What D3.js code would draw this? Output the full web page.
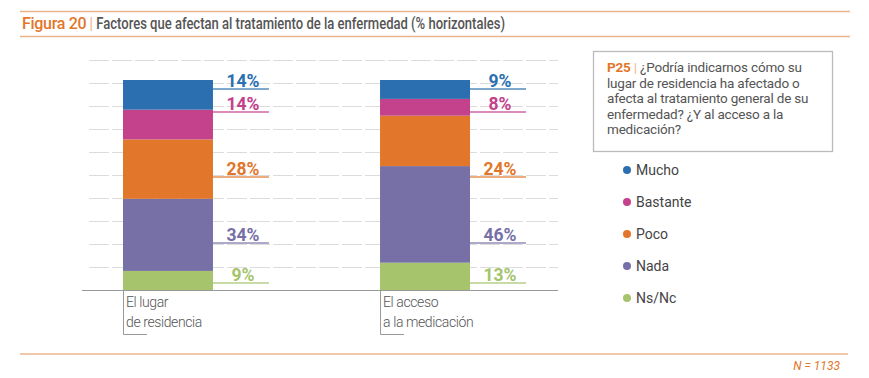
<!DOCTYPE html>
<html>
<head>
<meta charset="utf-8">
<script src="https://cdn.jsdelivr.net/npm/d3@7"></script>
<style>
  body { margin: 0; background: #fff; }
  svg { display: block; font-family: Roboto, "Open Sans", sans-serif; }
</style>
</head>
<body>
<script>
// datos
const categorias = [["El lugar", "de residencia"], ["El acceso", "a la medicación"]];
const series = ["Mucho", "Bastante", "Poco", "Nada", "Ns/Nc"];
const mucho = [14, 9];
const bastante = [14, 8];
const poco = [28, 24];
const nada = [34, 46];
const nsnc = [9, 13];
const gridTicks = [10, 20, 30, 40, 50, 60, 70, 80, 90, 100];

const colores = ["#2b6fb0", "#c4418c", "#e2762a", "#7670a6", "#a5c46c"];
const naranja = "#e2762a";

const W = 869, H = 378;
const svg = d3.select("body").append("svg").attr("width", W).attr("height", H);

// cabecera
svg.append("line").attr("x1", 20).attr("x2", 850).attr("y1", 11.5).attr("y2", 11.5)
  .attr("stroke", "#ebb58b").attr("stroke-width", 1.5);
svg.append("line").attr("x1", 20).attr("x2", 850).attr("y1", 36.5).attr("y2", 36.5)
  .attr("stroke", "#ebb58b").attr("stroke-width", 1.5);
const t1 = svg.append("text").attr("x", 22).attr("y", 29).attr("font-size", 16)
  .attr("font-weight", 500).attr("fill", naranja).attr("letter-spacing", -0.3).text("Figura 20");
let tx = 22 + t1.node().getComputedTextLength() + 3;
svg.append("text").attr("x", tx).attr("y", 29).attr("font-size", 16)
  .attr("fill", "#f0b890").text("|");
tx += 7;
svg.append("text").attr("x", tx).attr("y", 29).attr("font-size", 16).attr("font-weight", 500)
  .attr("fill", "#555").attr("textLength", 505 - tx).attr("lengthAdjust", "spacingAndGlyphs")
  .text("Factores que afectan al tratamiento de la enfermedad (% horizontales)");

// pie
svg.append("line").attr("x1", 20).attr("x2", 848).attr("y1", 354).attr("y2", 354)
  .attr("stroke", "#ebb58b").attr("stroke-width", 1.5);
svg.append("text").attr("x", 840).attr("y", 370).attr("text-anchor", "end")
  .attr("font-size", 12).attr("font-style", "italic").attr("fill", naranja).text("N = 1133");

// escalas
const base = 290;
const x = d3.scaleBand().domain(d3.range(categorias.length)).range([123, 470]).paddingInner(0.65).paddingOuter(0);
const yGrid = d3.scaleLinear().domain([0, 100]).range([base, 60]);
const yBar = d3.scaleLinear().domain([0, 1]).range([base, 80]);

// rejilla
svg.append("g").selectAll("line").data(gridTicks).join("line")
  .attr("x1", 89).attr("x2", 558)
  .attr("y1", d => yGrid(d) + 0.5).attr("y2", d => yGrid(d) + 0.5)
  .attr("stroke", "#dcdcdc").attr("stroke-width", 1).attr("stroke-dasharray", "20,3");

// apilado
const filas = categorias.map((c, i) => ({
  Mucho: mucho[i], Bastante: bastante[i], Poco: poco[i], Nada: nada[i], "Ns/Nc": nsnc[i]
}));
const stack = d3.stack().keys(series.slice().reverse()).offset(d3.stackOffsetExpand);
const capas = stack(filas);

capas.forEach(capa => {
  const ci = series.indexOf(capa.key);
  svg.append("g").selectAll("rect").data(capa).join("rect")
    .attr("x", (d, i) => x(i))
    .attr("width", x.bandwidth())
    .attr("y", d => yBar(d[1]))
    .attr("height", d => yBar(d[0]) - yBar(d[1]))
    .attr("fill", colores[ci]);
});

// eje base
svg.append("line").attr("x1", 82).attr("x2", 558).attr("y1", base + 0.5).attr("y2", base + 0.5)
  .attr("stroke", "#999").attr("stroke-width", 1.2);

// etiquetas de categoria
categorias.forEach((c, i) => {
  const x0 = x(i);
  svg.append("path").attr("d", `M${x0 + 0.5},${base} V334.5 H${x0 + 24}`)
    .attr("fill", "none").attr("stroke", "#999").attr("stroke-width", 1);
  c.forEach((t, j) => {
    svg.append("text").attr("x", x0 + 3).attr("y", 307 + j * 20)
      .attr("font-size", 14).attr("font-weight", 300).attr("fill", "#555").attr("letter-spacing", -0.4).text(t);
  });
});

// etiquetas de valor (filas fijas, como en el original)
const filaEtiqueta = [89, 112, 177, 243, 283];
const valores = [mucho, bastante, poco, nada, nsnc];
categorias.forEach((c, i) => {
  const x1 = x(i) + x.bandwidth();
  valores.forEach((v, k) => {
    const yy = filaEtiqueta[k];
    svg.append("line").attr("x1", x1).attr("x2", x1 + 56).attr("y1", yy).attr("y2", yy)
      .attr("stroke", colores[k]).attr("stroke-width", 1.5).attr("opacity", 0.8);
    svg.append("text").attr("x", x1 + 30).attr("y", yy - 2.5).attr("text-anchor", "middle")
      .attr("font-size", 17.5).attr("font-weight", "bold").attr("fill", colores[k])
      .text(v[i] + "%");
  });
});

// recuadro pregunta
svg.append("rect").attr("x", 593.5).attr("y", 51.5).attr("width", 239).attr("height", 100)
  .attr("fill", "#fff").attr("stroke", "#bbb").attr("stroke-width", 1.3);
const pregunta = [
  "¿Podría indicarnos cómo su",
  "lugar de residencia ha afectado o",
  "afecta al tratamiento general de su",
  "enfermedad? ¿Y al acceso a la",
  "medicación?"
];
pregunta.forEach((t, j) => {
  const tt = svg.append("text").attr("x", 607).attr("y", 72 + j * 15.5)
    .attr("font-size", 13.5).attr("fill", "#555").attr("letter-spacing", -0.2);
  if (j === 0) {
    tt.append("tspan").attr("fill", naranja).attr("font-weight", "bold").text("P25 ");
    tt.append("tspan").attr("fill", "#f0b890").text("| ");
  }
  tt.append("tspan").text(t);
});

// leyenda
const leyenda = svg.append("g").selectAll("g").data(series).join("g")
  .attr("transform", (d, i) => `translate(627,${170 + i * 32})`);
leyenda.append("circle").attr("r", 4).attr("fill", (d, i) => colores[i]);
leyenda.append("text").attr("x", 9).attr("y", 5).attr("font-size", 14).attr("fill", "#444").text(d => d);
</script>
</body>
</html>
